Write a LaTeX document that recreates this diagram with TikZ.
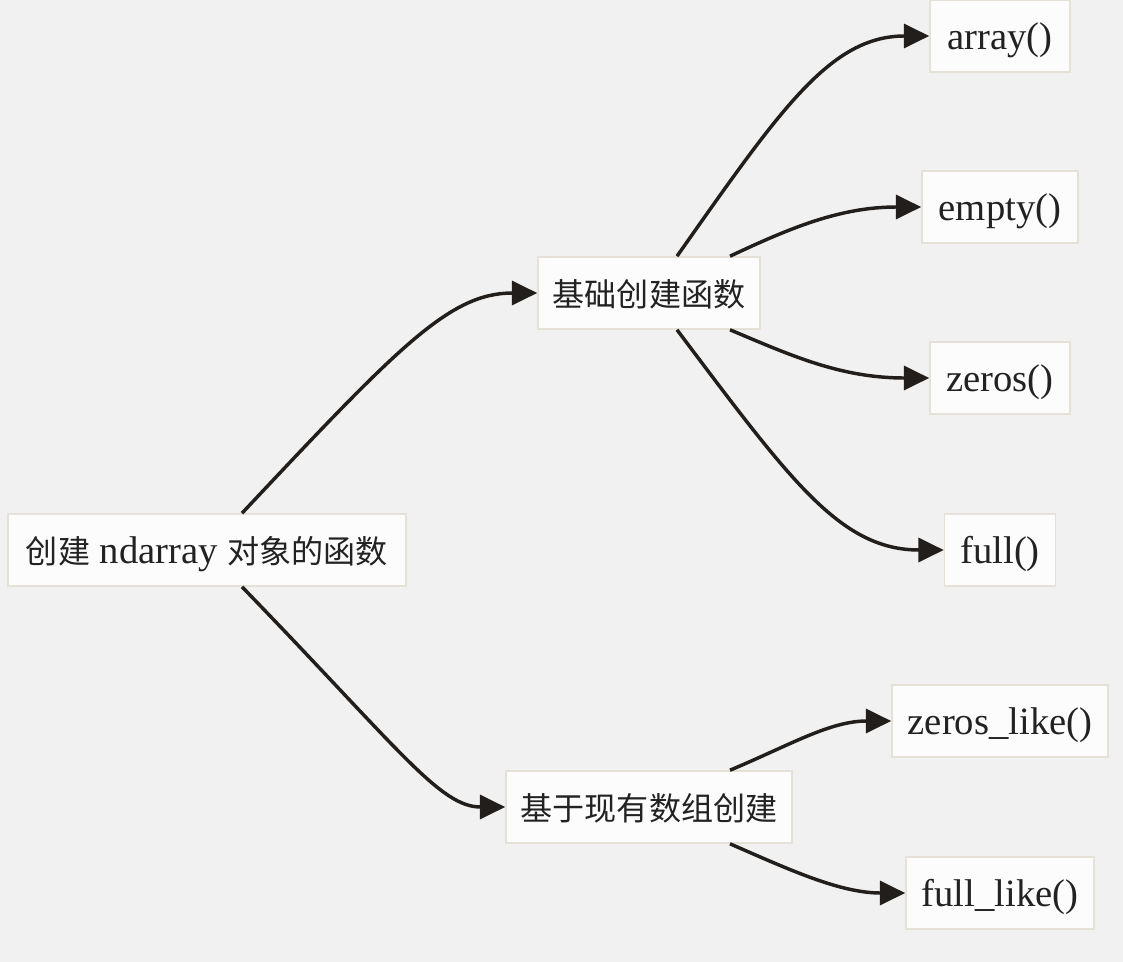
\documentclass[tikz,border=0pt]{standalone}
\usepackage{fontspec}
\setmainfont{Liberation Serif}
\newfontfamily\cjk[Scale=0.83]{Noto Sans CJK SC}
\usetikzlibrary{arrows.meta}
\definecolor{bgcol}{HTML}{F1F1F1}
\definecolor{boxfill}{HTML}{FCFCFC}
\definecolor{boxline}{HTML}{E6E1D8}
\definecolor{edgecol}{HTML}{221E1B}
\definecolor{txtcol}{HTML}{222222}
\begin{document}
\begin{tikzpicture}[x=0.75pt,y=-0.75pt,
  box/.style={draw=boxline,fill=boxfill,line width=1.2pt,minimum height=54pt,inner sep=0pt,
    text=txtcol,font=\fontsize{29}{33}\selectfont,text height=24pt,text depth=3.5pt},
  edge/.style={draw=edgecol,line width=2.6pt,-{Triangle[length=19pt,width=18pt]}}]
\useasboundingbox (0,0) rectangle (1123,962);
\fill[bgcol] (0,0) rectangle (1123,962);
\node[box,minimum width=298.5pt] (root) at (207,550) {{\cjk 创建} ndarray {\cjk 对象的函数}};
\node[box,minimum width=166.5pt] (base) at (649,293) {\cjk 基础创建函数};
\node[box,minimum width=214.5pt] (like) at (649,807) {\cjk 基于现有数组创建};
\node[box,minimum width=105pt] (array) at (1000,36) {array()};
\node[box,minimum width=117pt] (empty) at (1000,207) {empty()};
\node[box,minimum width=105pt] (zeros) at (1000,378) {zeros()};
\node[box,minimum width=83.25pt] (full) at (1000,550) {full()};
\node[box,minimum width=162pt] (zlike) at (1000,721) {zeros\_like()};
\node[box,minimum width=141pt] (flike) at (1000,893) {full\_like()};
\draw[edge] ([xshift=26.25pt]root.north) .. controls (400,345) and (450,293) .. (base.west);
\draw[edge] ([xshift=26.25pt]root.south) .. controls (400,750) and (440,807) .. (like.west);
\draw[edge] ([xshift=21pt]base.north) .. controls (780,110) and (830,36) .. (array.west);
\draw[edge] ([xshift=60.75pt]base.north) .. controls (790,228) and (840,207) .. (empty.west);
\draw[edge] ([xshift=60.75pt]base.south) .. controls (790,355) and (840,378) .. (zeros.west);
\draw[edge] ([xshift=21pt]base.south) .. controls (790,480) and (840,550) .. (full.west);
\draw[edge] ([xshift=60.75pt]like.north) .. controls (790,745) and (830,721) .. (zlike.west);
\draw[edge] ([xshift=60.75pt]like.south) .. controls (790,870) and (840,893) .. (flike.west);
\end{tikzpicture}
\end{document}
